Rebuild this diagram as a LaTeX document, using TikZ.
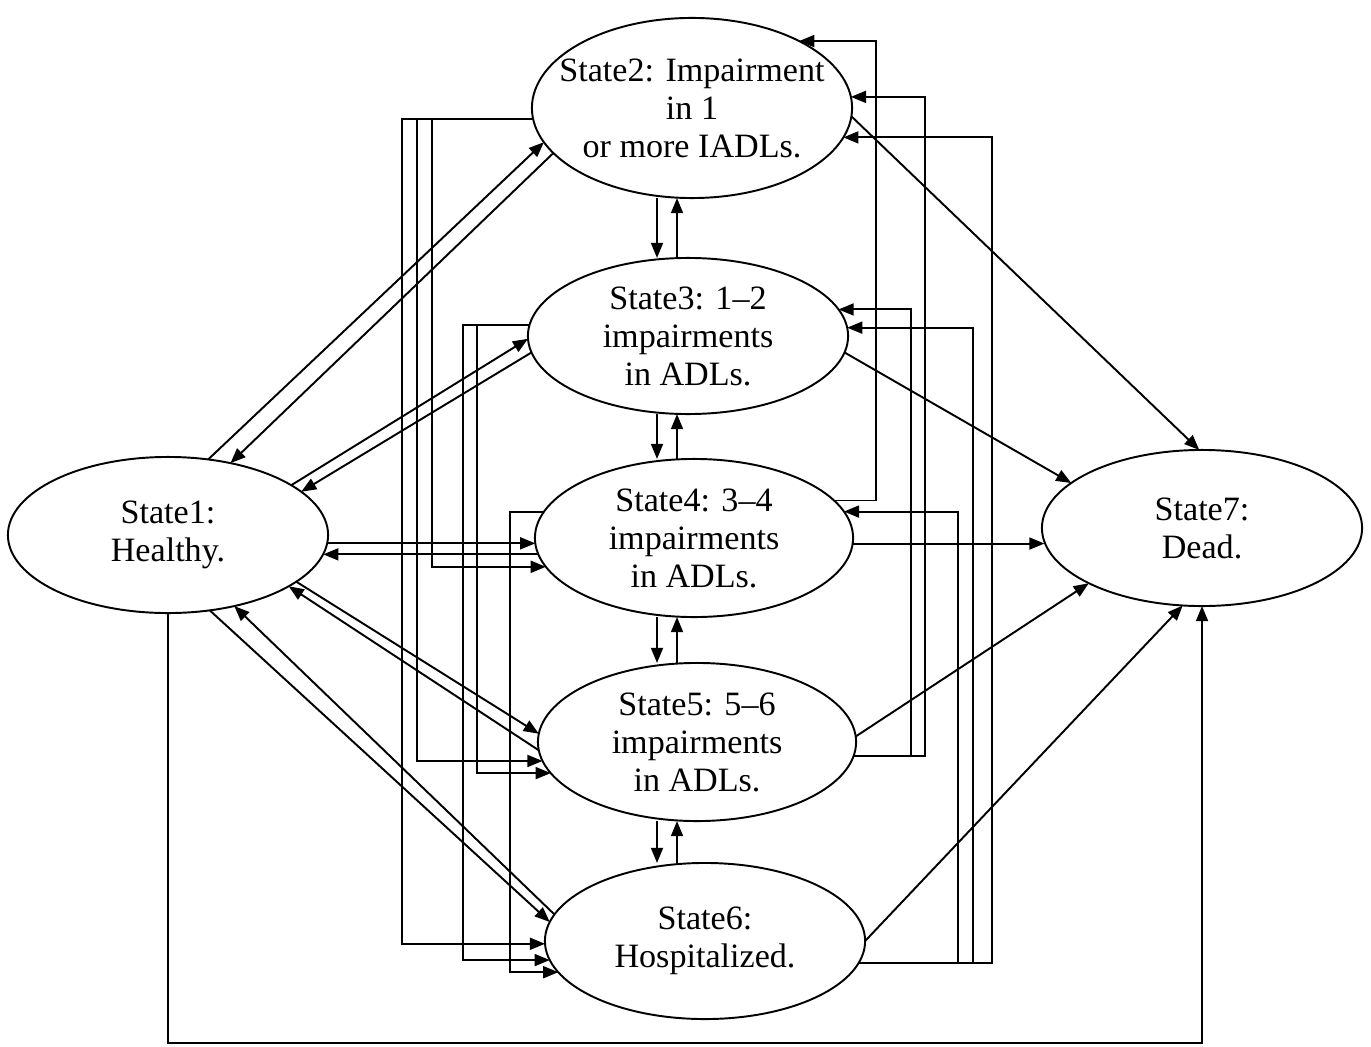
\documentclass[tikz,border=0pt]{standalone}
\usepackage{fontspec}
\setmainfont{Liberation Serif}
\usetikzlibrary{shapes.geometric,arrows.meta}

\begin{document}
\begin{tikzpicture}[x=0.01cm,y=-0.01cm,line width=0.55pt,
    >={Triangle[length=4.3pt,width=3.4pt]},
    state/.style={ellipse,draw,minimum width=3.2cm,minimum height=1.56cm,
      inner sep=-1cm,outer sep=0pt,align=center,
      font=\fontsize{9.7}{10.8}\selectfont}]
  \useasboundingbox (0,0) rectangle (1371,1046);

  \node[state] (s1) at (168,535) {State1:\\Healthy.};
  \node[state,minimum height=1.8cm] (s2) at (692,108) {State2: Impairment\\in 1\\or more IADLs.};
  \node[state] (s3) at (688,336) {State3: 1–2\\impairments\\in ADLs.};
  \node[state,minimum width=3.18cm,minimum height=1.58cm] (s4) at (694,538) {State4: 3–4\\impairments\\in ADLs.};
  \node[state,minimum width=3.18cm,minimum height=1.58cm] (s5) at (697,742) {State5: 5–6\\impairments\\in ADLs.};
  \node[state] (s6) at (705,941) {State6:\\Hospitalized.};
  \node[state] (s7) at (1202,528) {State7:\\Dead.};

  \foreach \a/\b in {s2/s3,s3/s4,s4/s5,s5/s6}
  {
    \draw[->] (\a.south -| 657,0) -- (\b.north -| 657,0);
    \draw[->] (\b.north -| 677,0) -- (\a.south -| 677,0);
  }

  \draw[->] (s1.62) -- (s2.193);
  \draw[->] (s2.198) -- (s1.49);
  \draw[->] (s1.22) -- (s3.181);
  \draw[->] (s3.186) -- (s1.18);
  \draw[->] (s1.357) -- (s1.357 -| s4.182);
  \draw[->] (s4.186) -- (s4.186 -| s1.353);
  \draw[->] (s1.340) -- (s5.177);
  \draw[->] (s5.183) -- (s1.337);
  \draw[->] (s1.299) -- (s6.173);
  \draw[->] (s6.170) -- (s1.313);
  \draw[->] (s1.south) |- (s7.south |- 0,1043) -- (s7.south);

  \foreach \a/\b/\x in {s2.184/s4.191/432,s2.184/s5.187/417,s2.184/s6.181/402,
      s3.176/s5.192/477,s3.176/s6.187/463,s4.170/s6.192/510,
      s4.15/s2.32/876,s5.355/s2.4/925,s5.355/s3.10/911,
      s6.352/s2.349/992,s6.352/s3.3/973,s6.352/s4.10/958}
    \draw[->] (\a) -| (\b -| \x,0) -- (\b);

  \draw[->] (s2.357) -- (s7.92);
  \draw[->] (s3.354) -- (s7.161);
  \draw[->] (s4.358) -- (s4.358 -| s7.185);
  \draw[->] (s5.2) -- (s7.206);
  \draw[->] (s6.east) -- (s7.256);
\end{tikzpicture}
\end{document}
